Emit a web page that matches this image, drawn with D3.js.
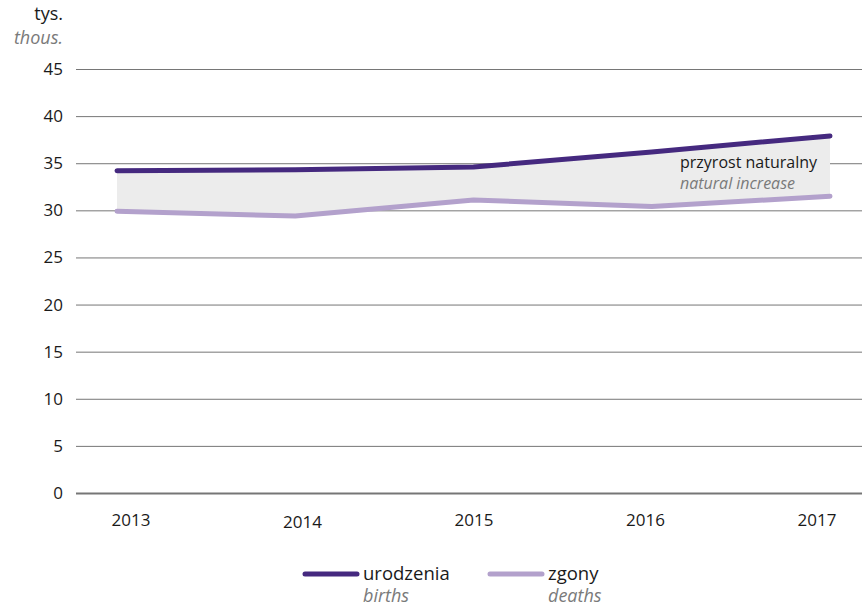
<!DOCTYPE html>
<html>
<head>
<meta charset="utf-8">
<script src="https://cdn.jsdelivr.net/npm/d3@7"></script>
<style>
  body { margin: 0; background: #fff; }
  text { font-family: "Open Sans", "Noto Sans", sans-serif; }
</style>
</head>
<body>
<svg id="chart" width="862" height="607"></svg>
<script>
// data (thousands)
var years = ["2013", "2014", "2015", "2016", "2017"];
var births = [34.2, 34.3, 34.6, 36.2, 37.9];
var deaths = [29.9, 29.4, 31.1, 30.4, 31.5];
var yTicks = [0, 5, 10, 15, 20, 25, 30, 35, 40, 45];

var svg = d3.select("#chart");
var colBirths = "#45297f", colDeaths = "#b3a1cc";

var x = d3.scalePoint().domain(years).range([117, 830]);
var xLab = d3.scalePoint().domain(years).range([131, 817]);
var y = d3.scaleLinear().domain([0, 45]).range([493, 69]);

// gridlines
svg.append("g").selectAll("line")
    .data(yTicks)
    .enter().append("line")
    .attr("x1", 76).attr("x2", 862)
    .attr("y1", function(d){ return y(d) + 0.5; })
    .attr("y2", function(d){ return y(d) + 0.5; })
    .style("stroke", "#767676")
    .style("stroke-width", function(d){ return d === 0 ? 2 : 1; });

// y labels
svg.append("g").selectAll("text")
    .data(yTicks)
    .enter().append("text")
    .attr("x", 63)
    .attr("y", function(d){ return y(d) + 6; })
    .attr("text-anchor", "end")
    .style("font-size", "17px")
    .style("fill", "#1a1a1a")
    .text(function(d){ return d; });

svg.append("text").attr("x", 63).attr("y", 20).attr("text-anchor", "end")
    .style("font-size", "18px").style("fill", "#1a1a1a").text("tys.");
svg.append("text").attr("x", 63).attr("y", 44).attr("text-anchor", "end")
    .style("font-size", "18px").style("font-style", "italic").style("fill", "#7a7a7a").text("thous.");

// x labels
svg.append("g").selectAll("text")
    .data(years)
    .enter().append("text")
    .attr("x", function(d){ return xLab(d); })
    .attr("y", function(d){ return d === "2014" ? 528 : 526; })
    .attr("text-anchor", "middle")
    .style("font-size", "17px")
    .style("fill", "#1a1a1a")
    .text(function(d){ return d; });

// area between the lines
var rows = years.map(function(d, i){ return {year: d, b: births[i], z: deaths[i]}; });
var area = d3.area()
    .x(function(d){ return x(d.year); })
    .y0(function(d){ return y(d.z); })
    .y1(function(d){ return y(d.b); });
svg.append("path").datum(rows).attr("d", area).style("fill", "#ececec");

// lines
var line = d3.line().x(function(d){ return x(d[0]); }).y(function(d){ return y(d[1]); });
function drawLine(vals, col){
  svg.append("path")
    .datum(years.map(function(d, i){ return [d, vals[i]]; }))
    .attr("d", line)
    .style("fill", "none")
    .style("stroke", col)
    .style("stroke-width", 5)
    .style("stroke-linecap", "round")
    .style("stroke-linejoin", "round");
}
drawLine(deaths, colDeaths);
drawLine(births, colBirths);

// annotation
svg.append("text").attr("x", 680).attr("y", 168)
    .style("font-size", "16px").style("fill", "#1a1a1a").text("przyrost naturalny");
svg.append("text").attr("x", 680).attr("y", 189)
    .style("font-size", "16px").style("font-style", "italic").style("fill", "#7a7a7a").text("natural increase");

// legend
var legend = [
  {x: 305, pl: "urodzenia", en: "births", col: colBirths},
  {x: 490, pl: "zgony", en: "deaths", col: colDeaths}
];
var lg = svg.append("g").selectAll("g").data(legend).enter().append("g");
lg.append("line")
    .attr("x1", function(d){ return d.x; }).attr("x2", function(d){ return d.x + 52; })
    .attr("y1", 574).attr("y2", 574)
    .style("stroke", function(d){ return d.col; })
    .style("stroke-width", 5).style("stroke-linecap", "round");
lg.append("text")
    .attr("x", function(d){ return d.x + 58; }).attr("y", 580)
    .style("font-size", "18.5px").style("fill", "#1a1a1a")
    .text(function(d){ return d.pl; });
lg.append("text")
    .attr("x", function(d){ return d.x + 58; }).attr("y", 602)
    .style("font-size", "18px").style("font-style", "italic").style("fill", "#7a7a7a")
    .text(function(d){ return d.en; });
</script>
</body>
</html>
